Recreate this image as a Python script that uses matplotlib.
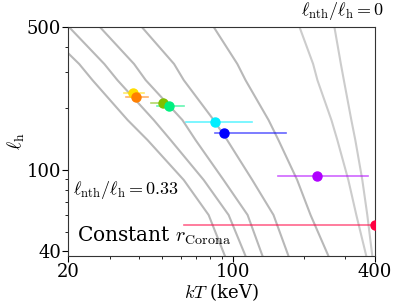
import matplotlib
matplotlib.use("Agg")
import matplotlib.pyplot as plt
from matplotlib.ticker import FixedLocator, NullFormatter, FixedFormatter
import numpy as np

plt.rcParams['font.family'] = 'DejaVu Serif'
plt.rcParams['mathtext.fontset'] = 'cm'

# gray model curves (l_h levels and kT of each curve)
curve_lh = [500, 373, 330, 275, 175.5, 140, 89.4, 60.3, 38]
curve_kT = [
    [np.nan, 20.0, 22.3, 25.4, 35.8, 43.5, 61.9, 78.9, 92.5],
    [20.2, np.nan, 28.5, 32.4, 46.2, 54.5, 75.2, 95.9, 113.1],
    [27.3, np.nan, 38.1, 42.7, 61.1, 69.5, 91.3, 115.4, 133.5],
    [41.1, np.nan, 56.3, 61.9, 82.9, 94.6, 120.8, 148.6, 172.0],
    [82.9, np.nan, 104.4, 113.1, 141.6, 156.0, 187.2, 213.3, 254.0],
    [191.5, np.nan, 218.7, 228.1, 261.5, 277.1, 308.4, 333.4, 367.5],
    [269.2, np.nan, 286.7, 295.2, 317.6, 330.2, 353.5, 371.1, 389.7],
]
curve_colors = ['#b8b8b8'] * 5 + ['#cccccc'] * 2

# sources
kT = [37.9, 39.0, 50.3, 53.6, 83.7, 91.3, 227.4, 400.0]
kT_lo = [34.6, 35.2, 44.9, 47.6, 63.5, 83.7, 154.9, 62.0]
kT_hi = [42.0, 43.5, 51.9, 62.0, 120.8, 168.2, 372.0, 600.0]
lh = [237, 226.6, 211.8, 206, 172, 151, 93.7, 53.9]
colors = ['#ffdd00', '#ff7f00', '#7fbf00', '#00f080', '#00eeff', '#0000ff', '#b000ff', '#ff0040']

fig = plt.figure(figsize=[3.99, 3.07], dpi=100)
ax = fig.add_axes([0.1704, 0.1661, 0.7694, 0.7459])

for xs, c in zip(curve_kT, curve_colors):
    xs = np.array(xs)
    ys = np.array(curve_lh)
    m = ~np.isnan(xs)
    ax.plot(xs[m], ys[m], color=c, lw=1.5, zorder=1)

for i in range(len(kT)):
    ax.plot([kT_lo[i], kT_hi[i]], [lh[i], lh[i]], color=colors[i], lw=1.2, alpha=0.6, zorder=2)
    ax.plot(kT[i], lh[i], 'o', color=colors[i], markersize=6.5, zorder=3)

ax.set_xscale('log')
ax.set_yscale('log')
ax.set_xlim(20, 400)
ax.set_ylim(38, 500)
ax.xaxis.set_major_locator(FixedLocator([20, 100, 400]))
ax.xaxis.set_major_formatter(FixedFormatter(['20', '100', '400']))
ax.xaxis.set_minor_formatter(NullFormatter())
ax.yaxis.set_major_locator(FixedLocator([40, 100, 500]))
ax.yaxis.set_major_formatter(FixedFormatter(['40', '100', '500']))
ax.yaxis.set_minor_formatter(NullFormatter())
ax.tick_params(which='major', labelsize=13, length=4, pad=1)
ax.tick_params(which='minor', length=2)
for s in ax.spines.values():
    s.set_color('#333333')

ax.set_xlabel(r'$kT$ (keV)', fontsize=13, labelpad=0)
ax.set_ylabel(r'$\ell_{\rm h}$', fontsize=14, labelpad=0)

ax.text(1.03, 1.02, r'$\ell_{\rm nth}/\ell_{\rm h} = 0$', transform=ax.transAxes,
        ha='right', va='bottom', fontsize=13)
ax.text(0.015, 0.29, r'$\ell_{\rm nth}/\ell_{\rm h} = 0.33$', transform=ax.transAxes,
        ha='left', va='center', fontsize=13)
ax.text(0.03, 0.09, r'Constant $r_{\rm Corona}$', transform=ax.transAxes,
        ha='left', va='center', fontsize=14.5)

fig.savefig('out.png', dpi=100)
